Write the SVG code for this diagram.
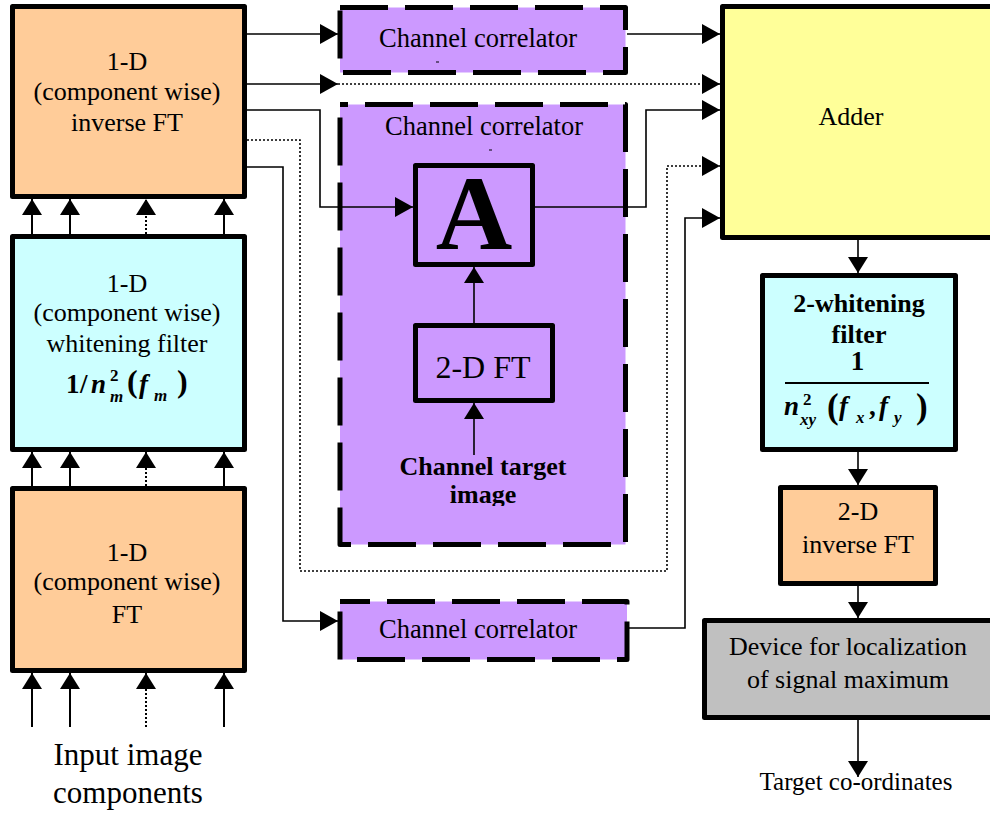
<svg xmlns="http://www.w3.org/2000/svg" width="990" height="816" viewBox="0 0 990 816">
<defs>
<style>
.box{stroke:#000;stroke-width:5;stroke-linejoin:round}
.dash{stroke-dasharray:48 17;stroke-linecap:butt}
.t{font-family:"Liberation Serif","Times New Roman",serif;font-size:26px;text-anchor:middle;fill:#000}
.b{font-weight:bold}
.fm{font-family:"Liberation Serif","Times New Roman",serif;font-weight:bold;fill:#000}
.i{font-style:italic}
.ln{stroke:#000;stroke-width:1.6;fill:none}
.dot{stroke-dasharray:2 2}
.v{stroke-width:2}
</style>
<marker id="ah" viewBox="0 0 18 20" refX="18" refY="10" markerWidth="18" markerHeight="20" markerUnits="userSpaceOnUse" orient="auto">
<path d="M0,0 L18,10 L0,20 z" fill="#000"/>
</marker>
<marker id="av" viewBox="0 0 16 20" refX="16" refY="10" markerWidth="16" markerHeight="20" markerUnits="userSpaceOnUse" orient="auto">
<path d="M0,0 L16,10 L0,20 z" fill="#000"/>
</marker>
<clipPath id="clipImg"><rect x="340" y="430" width="285" height="76"/></clipPath>
</defs>
<rect width="990" height="816" fill="#fff"/>

<g id="invFT1D">
<rect class="box" x="12.5" y="6.5" width="232" height="190" fill="#FFCC99"/>
<text class="t" x="127" y="70">1-D</text>
<text class="t" x="127" y="100">(component wise)</text>
<text class="t" x="127" y="131">inverse FT</text>
</g>

<g id="whiten1D">
<rect class="box" x="12.5" y="236.5" width="232" height="213" fill="#CCFFFF"/>
<text class="t" x="127" y="292">1-D</text>
<text class="t" x="127" y="321">(component wise)</text>
<text class="t" x="127" y="352">whitening filter</text>
<text class="fm" x="66" y="393" style="font-size:27px">1</text>
<text class="fm" x="80" y="393" style="font-size:27px">/</text>
<text class="fm i" x="91" y="393" style="font-size:27px">n</text>
<text class="fm" x="110" y="381" style="font-size:17px">2</text>
<text class="fm i" x="110" y="402" style="font-size:17px">m</text>
<text class="fm" x="127" y="392" style="font-size:32px">(</text>
<text class="fm i" x="139" y="393" style="font-size:27px">f</text>
<text class="fm i" x="154" y="401" style="font-size:17px">m</text>
<text class="fm" x="177" y="392" style="font-size:32px">)</text>
</g>

<g id="FT1D">
<rect class="box" x="12.5" y="488.5" width="232" height="182" fill="#FFCC99"/>
<text class="t" x="127" y="561">1-D</text>
<text class="t" x="127" y="590">(component wise)</text>
<text class="t" x="127" y="623">FT</text>
</g>

<g id="inputLabel">
<text class="t" x="128" y="765" style="font-size:31px">Input image</text>
<text class="t" x="128" y="803" style="font-size:31px">components</text>
</g>

<g id="corrTop">
<rect class="box dash" x="340" y="7.5" width="285.5" height="65" fill="#CC99FF"/>
<text class="t" x="478" y="47" style="font-size:26.5px">Channel correlator</text>
<line x1="436" y1="62" x2="439" y2="62" stroke="#000" stroke-width="1"/>
</g>

<g id="corrMain">
<rect class="box dash" x="340" y="104.5" width="285.5" height="440" fill="#CC99FF" stroke-dashoffset="40"/>
<text class="t" x="484" y="135" style="font-size:26.5px">Channel correlator</text>
<line x1="489" y1="150" x2="492" y2="150" stroke="#000" stroke-width="1"/>
</g>

<g id="blockA">
<rect class="box" x="415.5" y="165.5" width="117" height="99" fill="#CC99FF"/>
<text class="t b" x="474" y="249" style="font-size:106px">A</text>
</g>

<g id="FT2D">
<rect class="box" x="415.5" y="325.5" width="137" height="75" fill="#CC99FF"/>
<text class="t" x="483" y="378" style="font-size:32px">2-D FT</text>
</g>

<g id="targetImage" clip-path="url(#clipImg)">
<text class="t b" x="483" y="475" style="font-size:26px">Channel target</text>
<text class="t b" x="483" y="503" style="font-size:26px">image</text>
</g>

<g id="corrBottom">
<rect class="box dash" x="340" y="601.5" width="287" height="58" fill="#CC99FF" stroke-dashoffset="18"/>
<text class="t" x="478" y="638" style="font-size:26.5px">Channel correlator</text>
</g>

<g id="adder">
<rect class="box" x="722.5" y="6.5" width="280" height="231" fill="#FFFF99"/>
<text class="t" x="851" y="125">Adder</text>
</g>

<g id="whiten2D">
<rect class="box" x="762.5" y="275.5" width="193" height="174" fill="#CCFFFF"/>
<text class="t b" x="859" y="312">2-whitening</text>
<text class="t b" x="859" y="343">filter</text>
<text class="fm" x="857.5" y="370" style="font-size:27px" text-anchor="middle">1</text>
<rect x="785" y="382" width="144" height="2" fill="#000"/>
<text class="fm i" x="784" y="415" style="font-size:27px">n</text>
<text class="fm" x="803" y="405" style="font-size:17px">2</text>
<text class="fm i" x="800" y="425" style="font-size:17px">xy</text>
<text class="fm" x="827" y="418" style="font-size:35px">(</text>
<text class="fm i" x="839" y="415" style="font-size:27px">f</text>
<text class="fm i" x="856" y="423" style="font-size:17px">x</text>
<text class="fm" x="869" y="415" style="font-size:27px">,</text>
<text class="fm i" x="879" y="415" style="font-size:27px">f</text>
<text class="fm i" x="894" y="423" style="font-size:17px">y</text>
<text class="fm" x="916" y="418" style="font-size:35px">)</text>
</g>

<g id="invFT2D">
<rect class="box" x="780.5" y="487.5" width="155" height="96" fill="#FFCC99"/>
<text class="t" x="858" y="520">2-D</text>
<text class="t" x="858" y="553">inverse FT</text>
</g>

<g id="device">
<rect class="box" x="704.5" y="620.5" width="300" height="97" fill="#C0C0C0"/>
<text class="t" x="848" y="655">Device for localization</text>
<text class="t" x="848" y="688">of signal maximum</text>
</g>

<g id="outLabel">
<text class="t" x="856" y="790" style="font-size:25px">Target co-ordinates</text>
</g>

<g id="connectors">
<line class="ln" x1="247" y1="34" x2="338" y2="34" marker-end="url(#ah)"/>
<line class="ln" x1="247" y1="84" x2="338" y2="84" marker-end="url(#ah)"/>
<line class="ln dot" x1="338" y1="84" x2="720" y2="84" marker-end="url(#ah)"/>
<polyline class="ln" points="247,110 320,110 320,207 413,207" marker-end="url(#ah)"/>
<polyline class="ln dot" points="247,140 300,140 300,571 667,571 667,166 720,166" marker-end="url(#ah)"/>
<polyline class="ln" points="247,167 283,167 283,621 338,621" marker-end="url(#ah)"/>
<line class="ln" x1="627" y1="34" x2="720" y2="34" marker-end="url(#ah)"/>
<polyline class="ln" points="535,207 646,207 646,110 720,110" marker-end="url(#ah)"/>
<polyline class="ln" points="627,628 685,628 685,218 720,218" marker-end="url(#ah)"/>
<line class="ln" x1="474" y1="323" x2="474" y2="267" marker-end="url(#av)"/>
<line class="ln" x1="474" y1="455" x2="474" y2="403" marker-end="url(#av)"/>
<line class="ln" x1="858" y1="240" x2="858" y2="273" marker-end="url(#av)"/>
<line class="ln" x1="858" y1="452" x2="858" y2="485" marker-end="url(#av)"/>
<line class="ln" x1="858" y1="586" x2="858" y2="618" marker-end="url(#av)"/>
<line class="ln" x1="858" y1="720" x2="858" y2="777" marker-end="url(#av)"/>
<line class="ln v" x1="32" y1="234" x2="32" y2="199" marker-end="url(#av)"/>
<line class="ln v" x1="70" y1="234" x2="70" y2="199" marker-end="url(#av)"/>
<line class="ln v dot" x1="146" y1="234" x2="146" y2="199" marker-end="url(#av)"/>
<line class="ln v" x1="224" y1="234" x2="224" y2="199" marker-end="url(#av)"/>
<line class="ln v" x1="32" y1="486" x2="32" y2="452" marker-end="url(#av)"/>
<line class="ln v" x1="70" y1="486" x2="70" y2="452" marker-end="url(#av)"/>
<line class="ln v dot" x1="146" y1="486" x2="146" y2="452" marker-end="url(#av)"/>
<line class="ln v" x1="224" y1="486" x2="224" y2="452" marker-end="url(#av)"/>
<line class="ln v" x1="32" y1="727" x2="32" y2="673" marker-end="url(#av)"/>
<line class="ln v" x1="70" y1="727" x2="70" y2="673" marker-end="url(#av)"/>
<line class="ln v dot" x1="146" y1="727" x2="146" y2="673" marker-end="url(#av)"/>
<line class="ln v" x1="224" y1="727" x2="224" y2="673" marker-end="url(#av)"/>
</g>
</svg>
